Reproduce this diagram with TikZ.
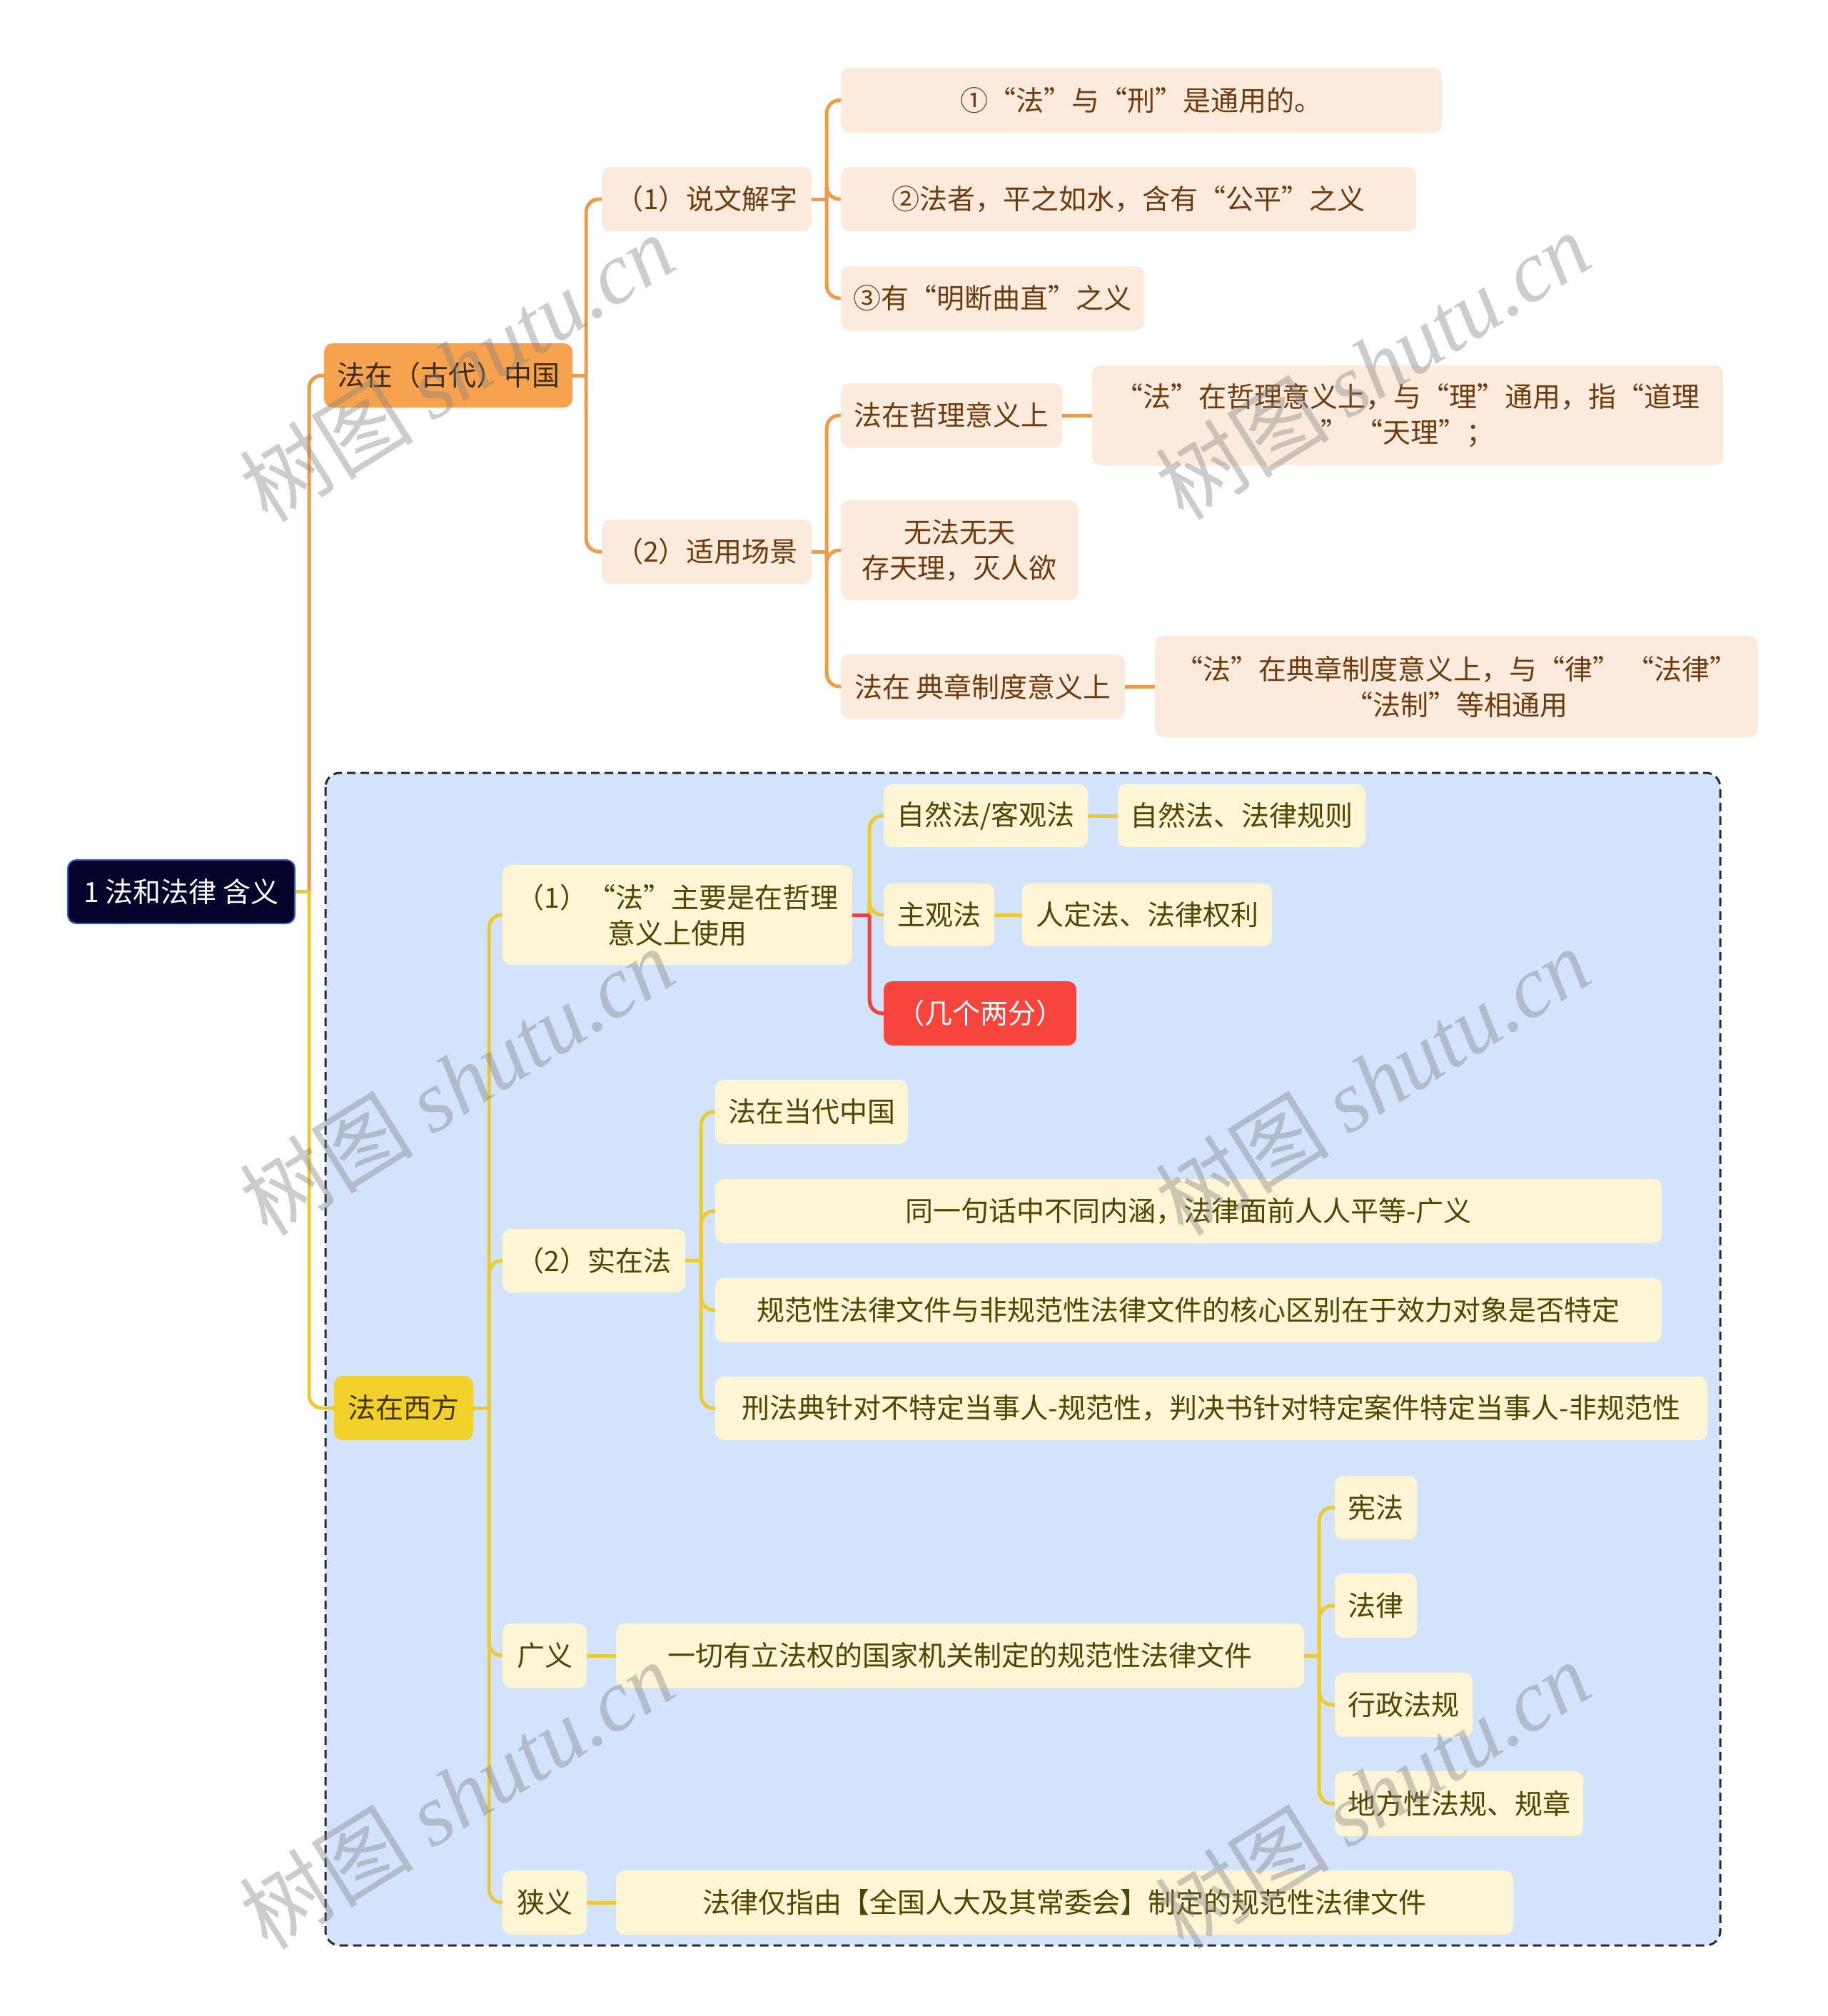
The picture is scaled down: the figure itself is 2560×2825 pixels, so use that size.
\documentclass[tikz,border=0pt]{standalone}
\usepackage{fontspec}
\setmainfont{Noto Sans CJK SC}
\newfontfamily\wmlatin{Liberation Serif}
\definecolor{olc}{HTML}{F09B4B}
\definecolor{ylc}{HTML}{EBCB2E}
\definecolor{rdc}{HTML}{E8433D}
\definecolor{rootfill}{HTML}{03032B}
\definecolor{rootdraw}{HTML}{2F5FBF}
\definecolor{gdfill}{HTML}{F7A24F}
\definecolor{gdtext}{HTML}{3A2A1A}
\definecolor{onfill}{HTML}{FCEBDC}
\definecolor{ontext}{HTML}{6E3B0E}
\definecolor{xffill}{HTML}{F2D12A}
\definecolor{xftext}{HTML}{3F3600}
\definecolor{ynfill}{HTML}{FDF5D4}
\definecolor{yntext}{HTML}{4F4500}
\definecolor{redfill}{HTML}{F7443C}
\definecolor{framefill}{HTML}{D3E3FB}
\definecolor{framedraw}{HTML}{2A2A2A}
\newcommand\bx[7]{\node[#6, minimum width={#4-#2}, minimum height={#5-#3}] (#1) at ({(#2+#4)/2},{(#3+#5)/2}) {#7};}
\tikzset{
  base/.style={rounded corners=12pt, inner sep=0pt, align=center, font=\fontsize{39}{50}\selectfont},
  rootn/.style={base, fill=rootfill, draw=rootdraw, line width=2pt, text=white},
  gdn/.style={base, fill=gdfill, text=gdtext},
  onn/.style={base, fill=onfill, text=ontext},
  xfn/.style={base, fill=xffill, text=xftext},
  ynn/.style={base, fill=ynfill, text=yntext},
  redn/.style={base, fill=redfill, text=white},
  ol/.style={draw=olc, line width=5pt},
  yl/.style={draw=ylc, line width=5pt},
  rl/.style={draw=rdc, line width=5pt},
  rc/.style={rounded corners=18pt},
  wm/.style={text=gray, opacity=0.4, font=\fontsize{122}{130}\selectfont, inner sep=0pt}
}
\begin{document}
\begin{tikzpicture}[x=1pt, y=-1pt]
\fill[white] (0,0) rectangle (2560,2825);
\useasboundingbox (0,0) rectangle (2560,2825);
% frame
\draw[fill=framefill, draw=framedraw, line width=3pt, dash pattern=on 12pt off 7pt, rounded corners=20pt] (456,1083) rectangle (2410,2726);
% nodes
\bx{root}{95}{1205}{413}{1294}{rootn}{1 法和法律 含义}
\bx{gd}{454}{481}{802}{571}{gdn}{法在（古代）中国}
\bx{s1}{843}{234}{1137}{324}{onn}{（1）说文解字}
\bx{s2}{843}{728}{1137}{818}{onn}{（2）适用场景}
\bx{a1}{1178}{95}{2020}{186}{onn}{①“法”与“刑”是通用的。}
\bx{a2}{1178}{234}{1984}{324}{onn}{②法者，平之如水，含有“公平”之义}
\bx{a3}{1178}{373}{1603}{463}{onn}{③有“明断曲直”之义}
\bx{b1}{1178}{537}{1488}{627}{onn}{法在哲理意义上}
\bx{b1c}{1530}{512}{2414}{652}{onn}{“法”在哲理意义上，与“理”通用，指“道理\\” “天理”；}
\bx{b2}{1178}{701}{1510}{841}{onn}{无法无天\\存天理，灭人欲}
\bx{b3}{1178}{917}{1576}{1007}{onn}{法在 典章制度意义上}
\bx{b3c}{1618}{891}{2463}{1033}{onn}{“法”在典章制度意义上，与“律” “法律”\\“法制”等相通用}
\bx{xf}{468}{1928}{663}{2018}{xfn}{法在西方}
\bx{p1}{704}{1212}{1194}{1352}{ynn}{（1）“法”主要是在哲理\\意义上使用}
\bx{n1}{1238}{1099}{1524}{1187}{ynn}{自然法/客观法}
\bx{n1c}{1566}{1099}{1913}{1187}{ynn}{自然法、法律规则}
\bx{n2}{1238}{1238}{1393}{1326}{ynn}{主观法}
\bx{n2c}{1432}{1238}{1782}{1326}{ynn}{人定法、法律权利}
\bx{n3}{1238}{1375}{1508}{1465}{redn}{（几个两分）}
\bx{p2}{704}{1722}{960}{1811}{ynn}{（2）实在法}
\bx{m1}{1002}{1513}{1272}{1603}{ynn}{法在当代中国}
\bx{m2}{1002}{1652}{2328}{1742}{ynn}{同一句话中不同内涵，法律面前人人平等-广义}
\bx{m3}{1002}{1791}{2328}{1881}{ynn}{规范性法律文件与非规范性法律文件的核心区别在于效力对象是否特定}
\bx{m4}{1002}{1929}{2392}{2018}{ynn}{刑法典针对不特定当事人-规范性，判决书针对特定案件特定当事人-非规范性}
\bx{gy}{704}{2275}{822}{2365}{ynn}{广义}
\bx{gyc}{863}{2275}{1827}{2365}{ynn}{一切有立法权的国家机关制定的规范性法律文件}
\bx{k1}{1870}{2068}{1985}{2157}{ynn}{宪法}
\bx{k2}{1870}{2205}{1985}{2295}{ynn}{法律}
\bx{k3}{1870}{2344}{2063}{2434}{ynn}{行政法规}
\bx{k4}{1870}{2482}{2218}{2573}{ynn}{地方性法规、规章}
\bx{xy}{704}{2621}{822}{2711}{ynn}{狭义}
\bx{xyc}{863}{2621}{2120}{2711}{ynn}{法律仅指由【全国人大及其常委会】制定的规范性法律文件}
% junctions
\coordinate (jr) at ([xshift=19pt]root.east);
\coordinate (jg) at ([xshift=19pt]gd.east);
\coordinate (js1) at ([xshift=21pt]s1.east);
\coordinate (js2) at ([xshift=21pt]s2.east);
\coordinate (jx) at ([xshift=22pt]xf.east);
\coordinate (jp1) at ([xshift=24pt]p1.east);
\coordinate (jp2) at ([xshift=22pt]p2.east);
\coordinate (jgy) at ([xshift=21pt]gyc.east);
% orange connectors
\draw[ol, rc] (jr) |- (gd.west);
\draw[ol] (gd.east) -- (jg);
\draw[ol, rc] (jg) |- (s1.west);
\draw[ol, rc] (jg) |- (s2.west);
\draw[ol] (s1.east) -- (js1);
\foreach \c in {a1,a2,a3} {\draw[ol, rc] (js1) |- (\c.west);}
\draw[ol] (s2.east) -- (js2);
\foreach \c in {b1,b2,b3} {\draw[ol, rc] (js2) |- (\c.west);}
\draw[ol] (b1.east) -- (b1c.west);
\draw[ol] (b3.east) -- (b3c.west);
% yellow connectors
\draw[yl] (root.east) -- (jr);
\draw[yl, rc] (jr) |- (xf.west);
\draw[yl] (xf.east) -- (jx);
\foreach \c in {p1,p2,gy,xy} {\draw[yl, rc] (jx) |- (\c.west);}
\draw[yl] (p1.east) -- (jp1);
\foreach \c in {n1,n2} {\draw[yl, rc] (jp1) |- (\c.west);}
\draw[rl] (p1.east) -- (jp1);
\draw[rl, rc] (jp1) |- (n3.west);
\draw[yl] (n1.east) -- (n1c.west);
\draw[yl] (n2.east) -- (n2c.west);
\draw[yl] (p2.east) -- (jp2);
\foreach \c in {m1,m2,m3,m4} {\draw[yl, rc] (jp2) |- (\c.west);}
\draw[yl] (gy.east) -- (gyc.west);
\draw[yl] (gyc.east) -- (jgy);
\foreach \c in {k1,k2,k3,k4} {\draw[yl, rc] (jgy) |- (\c.west);}
\draw[yl] (xy.east) -- (xyc.west);
% watermarks
\foreach \wx/\wy [count=\i] in {640/515, 1923/512, 640/1515, 1923/1515, 640/2515, 1923/2515} {
  \node[wm, rotate=32] (wm\i) at (\wx,\wy) {树图 {\wmlatin\itshape shutu.cn}};
}
\end{tikzpicture}
\end{document}
